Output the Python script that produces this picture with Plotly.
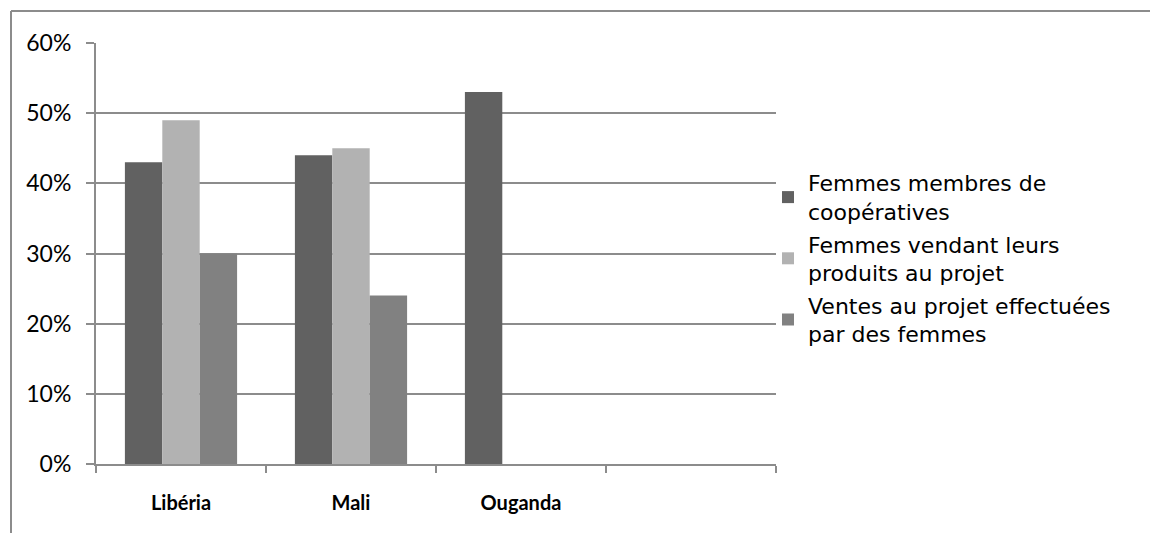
import plotly.graph_objects as go

# Pays (la quatrième catégorie est vide)
pays = ["Libéria", "Mali", "Ouganda", " "]

# Parts en pourcentage (fractions)
membres_coop = [0.43, 0.44, 0.53, None]
vendeuses = [0.49, 0.45, None, None]
ventes_femmes = [0.30, 0.24, None, None]

noms = [
    "Femmes membres de<br>coopératives",
    "Femmes vendant leurs<br>produits au projet",
    "Ventes au projet effectuées<br>par des femmes",
]
couleurs = ["#616161", "#b2b2b2", "#818181"]

fig = go.Figure()
for i, (nom, vals, c) in enumerate(zip(noms, [membres_coop, vendeuses, ventes_femmes], couleurs)):
    fig.add_trace(go.Bar(
        x=pays, y=vals, name=nom, legendgroup=f"g{i}",
        marker=dict(color=c, line=dict(width=0)),
    ))

grid = "#8c8c8c"
W, H = 1150, 533
L, R, T, B = 96, 374, 43, 69
pw, ph = W - L - R, H - T - B

def px_x(x):
    return (x - L) / pw

def px_y(y):
    return (H - B - y) / ph

fig.update_layout(
    width=W, height=H,
    margin=dict(l=L, r=R, t=T, b=B),
    paper_bgcolor="white", plot_bgcolor="white",
    barmode="group", bargap=0.34, bargroupgap=0,
    showlegend=True,
    legend=dict(
        x=px_x(768), y=px_y(162), xanchor="left", yanchor="top",
        font=dict(family="DejaVu Sans", size=22, color="#000000"),
        tracegroupgap=1, itemwidth=30, valign="middle",
        bgcolor="rgba(0,0,0,0)",
    ),
    xaxis=dict(
        type="category", tickson="boundaries",
        showline=True, linecolor=grid, linewidth=2,
        ticks="outside", ticklen=7, tickcolor=grid, tickwidth=2,
        showgrid=False, zeroline=False, ticklabelstandoff=20,
        tickfont=dict(family="Lato", size=20, color="#000000", weight="bold"),
        range=[-0.5, 3.5],
    ),
    yaxis=dict(
        range=[0, 0.6], dtick=0.1, tickformat=".0%",
        showline=True, linecolor=grid, linewidth=2,
        ticks="outside", ticklen=8, tickcolor=grid, tickwidth=2,
        showgrid=True, gridcolor=grid, gridwidth=2,
        zeroline=False, ticklabelstandoff=10,
        tickfont=dict(family="Lato", size=23, color="#000000"),
    ),
    shapes=[
        dict(type="line", xref="paper", yref="paper",
             x0=px_x(11), x1=px_x(1152), y0=px_y(11), y1=px_y(11),
             line=dict(color=grid, width=2)),
        dict(type="line", xref="paper", yref="paper",
             x0=px_x(11), x1=px_x(11), y0=px_y(11), y1=px_y(540),
             line=dict(color=grid, width=2)),
    ],
)

fig.write_html("out.html")
